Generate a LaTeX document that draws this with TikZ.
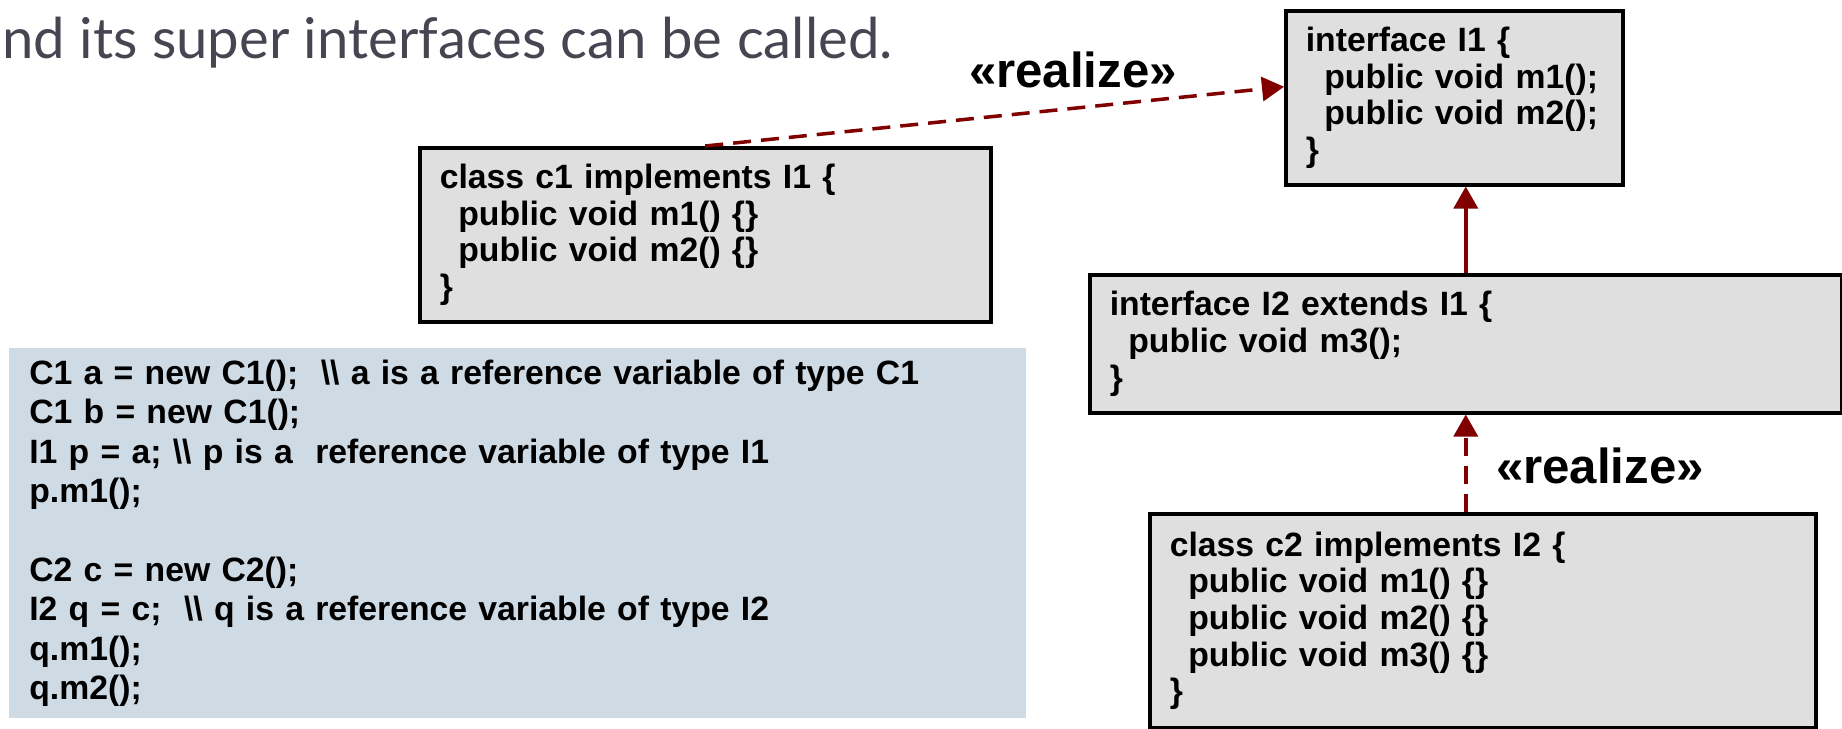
\documentclass[tikz,border=0pt]{standalone}
\usepackage{fontspec}
\setmainfont{Liberation Sans}
\newfontfamily\slidefont{Lato}
\usetikzlibrary{arrows.meta}

\definecolor{arrowred}{RGB}{128,0,0}
\definecolor{boxgray}{RGB}{223,223,223}
\definecolor{codeblue}{RGB}{207,219,228}
\definecolor{slidetext}{RGB}{70,70,82}

\newcommand{\ind}{\hspace*{0.55em}}
\newcommand{\bsl}{\textbackslash\textbackslash}

\begin{document}
\begin{tikzpicture}[x=0.2mm, y=-0.2mm,
  umlbox/.style={draw=black, line width=2pt, fill=boxgray, anchor=north west,
    inner xsep=4mm, inner ysep=0pt, align=left,
    font=\bfseries\fontsize{19.2}{20.8}\selectfont},
  codepanel/.style={fill=codeblue, anchor=north west, inner xsep=4mm,
    inner ysep=0pt, align=left, font=\bfseries\fontsize{19.2}{22.4}\selectfont},
  realize/.style={arrowred, line width=2pt, dash pattern=on 3.6mm off 2mm,
    -{Triangle[length=4.4mm, width=4.8mm]}},
  extends/.style={arrowred, line width=2pt, -{Triangle[length=4.4mm, width=4.8mm]}},
  stereo/.style={anchor=base, font=\bfseries\fontsize{28}{30}\selectfont}]

  \useasboundingbox (0,0) rectangle (1842,729);

  % Slide title
  \node[anchor=base west, inner sep=0pt, text=slidetext,
    font=\slidefont\fontsize{32}{34}\selectfont] (title) at (2,59)
    {nd its super interfaces can be called.};

  % Interfaces
  \node[umlbox, minimum width=67.4mm, minimum height=34.8mm, text width=59.4mm]
    (I1) at (1284,9)
    {interface I1 \{\\ \ind public void m1();\\ \ind public void m2();\\ \}};
  \node[umlbox, minimum width=150.4mm, minimum height=27.6mm, text width=142.4mm]
    (I2) at (1088,273)
    {interface I2 extends I1 \{\\ \ind public void m3();\\ \}};

  % Classes
  \node[umlbox, minimum width=114.2mm, minimum height=34.8mm, text width=106.2mm]
    (c1) at (418,146)
    {class c1 implements I1 \{\\ \ind public void m1() \{\}\\ \ind public void m2() \{\}\\ \}};
  \node[umlbox, minimum width=133.2mm, minimum height=42.8mm, text width=125.2mm]
    (c2) at (1148,512)
    {class c2 implements I2 \{\\ \ind public void m1() \{\}\\ \ind public void m2() \{\}\\
     \ind public void m3() \{\}\\ \}};

  % Client code
  \node[codepanel, minimum width=203.4mm, minimum height=74mm, text width=195.4mm]
    (code) at (9,348)
    {C1 a = new C1();~~\bsl{} a is a reference variable of type C1\\
     C1 b = new C1();\\
     I1 p = a; \bsl{} p is a~~reference variable of type I1\\
     p.m1();\\[22.4pt]
     C2 c = new C2();\\
     I2 q = c;~~\bsl{} q is a reference variable of type I2\\
     q.m1();\\
     q.m2();};

  % Relations
  \draw[realize] (c1.north) -- ([yshift=2.2mm]I1.west);
  \draw[extends] (I2.north) -- (I2.north |- I1.south);
  \draw[realize] (I2.south |- c2.north) -- (I2.south);

  % Stereotypes
  \node[stereo] (real1) at (1073,88) {«realize»};
  \node[stereo] (real2) at (1600,484) {«realize»};
\end{tikzpicture}
\end{document}
